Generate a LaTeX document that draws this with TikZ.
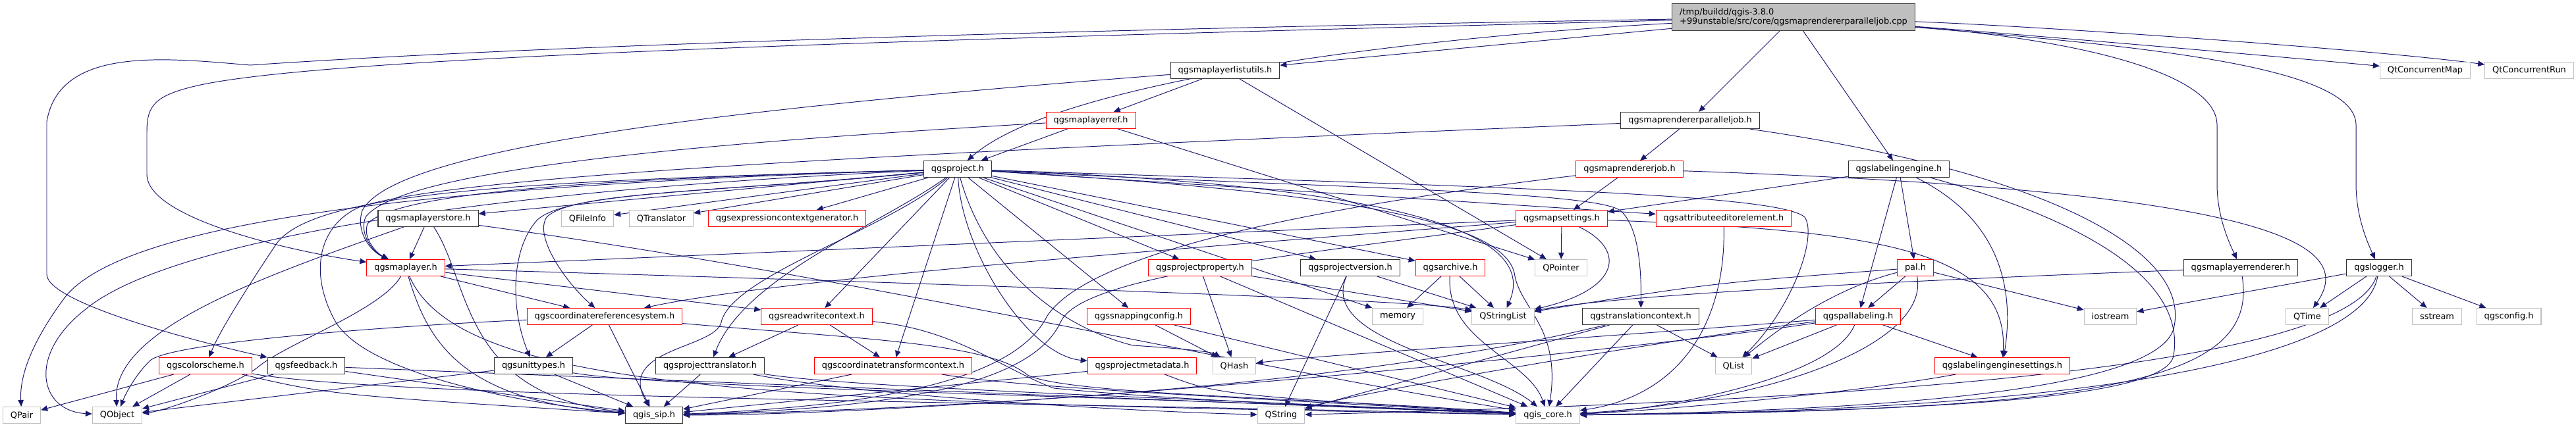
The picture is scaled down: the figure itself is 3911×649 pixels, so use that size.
\documentclass[tikz,border=0pt]{standalone}
\usepackage{fontspec}
\setmainfont{DejaVu Sans}
\usepackage{xcolor}
\usepackage{tikz}
\usetikzlibrary{arrows.meta, backgrounds}

\definecolor{midnight}{RGB}{25,25,112}
\definecolor{grey75}{RGB}{191,191,191}

\begin{document}
\begin{tikzpicture}[x=0.02cm, y=-0.02cm,
  every node/.style={font=\fontsize{7.35}{8}\selectfont, inner xsep=0.23cm,
                     inner ysep=0pt, minimum height=0.5cm, fill=white},
  hdr/.style={draw=black!80, line width=0.65pt},
  cut/.style={draw=red, line width=0.5pt},
  ext/.style={draw=grey75, line width=0.6pt},
  arrow/.style={-{Triangle[length=0.2cm, width=0.17cm]}, color=midnight, line width=0.55pt}
]
  \useasboundingbox (0,0) rectangle (3911,649);

  % source file
  \node (cpp) [draw=black!75, line width=0.65pt, fill=grey75, align=left,
               minimum height=0.82cm] at (2723,26)
       {/tmp/buildd/qgis-3.8.0\\+99unstable/src/core/qgsmaprendererparalleljob.cpp};

  % first levels
  \node (mlu) [hdr] at (1860,107) {qgsmaplayerlistutils.h};
  \node (qcmap) [ext] at (3682,107) {QtConcurrentMap};
  \node (qcrun) [ext] at (3840,107) {QtConcurrentRun};
  \node (mlref) [cut] at (1656,183) {qgsmaplayerref.h};
  \node (pjob) [hdr] at (2566,183) {qgsmaprendererparalleljob.h};
  \node (proj) [hdr] at (1454,257) {qgsproject.h};
  \node (rjob) [cut] at (2474,257) {qgsmaprendererjob.h};
  \node (leng) [hdr] at (2883,257) {qgslabelingengine.h};

  % row 4
  \node (mlstore) [hdr] at (650,332) {qgsmaplayerstore.h};
  \node (qfileinfo) [ext] at (892,332) {QFileInfo};
  \node (qtrans) [ext] at (1004,332) {QTranslator};
  \node (exprgen) [cut] at (1195,332) {qgsexpressioncontextgenerator.h};
  \node (msettings) [cut] at (2371,332) {qgsmapsettings.h};
  \node (attred) [cut] at (2617,332) {qgsattributeeditorelement.h};

  % row 5
  \node (mlayer) [cut] at (616,407) {qgsmaplayer.h};
  \node (pprop) [cut] at (1822,407) {qgsprojectproperty.h};
  \node (pver) [hdr] at (2050,407) {qgsprojectversion.h};
  \node (archive) [cut] at (2202,407) {qgsarchive.h};
  \node (qpointer) [ext] at (2370,407) {QPointer};
  \node (pal) [cut] at (2908,407) {pal.h};
  \node (mlrend) [hdr] at (3402,407) {qgsmaplayerrenderer.h};
  \node (logger) [hdr] at (3612,407) {qgslogger.h};

  % row 6
  \node (crs) [cut] at (918,481) {qgscoordinatereferencesystem.h};
  \node (rwctx) [cut] at (1240,481) {qgsreadwritecontext.h};
  \node (snap) [cut] at (1729,481) {qgssnappingconfig.h};
  \node (memory) [ext] at (2122,481) {memory};
  \node (qstrlist) [ext] at (2282,481) {QStringList};
  \node (trctx) [hdr] at (2491,481) {qgstranslationcontext.h};
  \node (pallab) [cut] at (2821,481) {qgspallabeling.h};
  \node (iostream) [ext] at (3204,481) {iostream};
  \node (qtime) [ext] at (3503,481) {QTime};
  \node (sstream) [ext] at (3700,481) {sstream};
  \node (qgsconfig) [ext] at (3809,481) {qgsconfig.h};

  % row 7
  \node (colsch) [cut] at (312,556) {qgscolorscheme.h};
  \node (feedback) [hdr] at (465,556) {qgsfeedback.h};
  \node (units) [hdr] at (810,556) {qgsunittypes.h};
  \node (ptrans) [hdr] at (1078,556) {qgsprojecttranslator.h};
  \node (ctctx) [cut] at (1356,556) {qgscoordinatetransformcontext.h};
  \node (pmeta) [cut] at (1734,556) {qgsprojectmetadata.h};
  \node (qhash) [ext] at (1874,556) {QHash};
  \node (qlist) [ext] at (2632,556) {QList};
  \node (lesett) [cut] at (3040,556) {qgslabelingenginesettings.h};

  % bottom row
  \node (qpair) [ext] at (33,631) {QPair};
  \node (qobject) [ext] at (178,631) {QObject};
  \node (sip) [hdr] at (993,631) {qgis\_sip.h};
  \node (qstring) [ext] at (1945,631) {QString};
  \node (core) [ext] at (2350,631) {qgis\_core.h};

  \begin{scope}[on background layer]
  \fill[white] (0,0) rectangle (3911,649);

  % includes of the .cpp
  \draw[arrow] (cpp) -- (mlu);
  \draw[arrow] (cpp) -- (pjob);
  \draw[arrow] (cpp) -- (leng);
  \draw[arrow] (cpp) .. controls (2250,50) and (1620,110) .. (proj);
  \draw[arrow] (cpp) .. controls (1600,45) and (800,70) .. (380,99)
    .. controls (250,88) and (90,70) .. (71,185) -- (71,417)
    .. controls (71,460) and (300,520) .. (feedback);
  \draw[arrow] (cpp) .. controls (1400,60) and (500,85) .. (300,130)
    .. controls (235,145) and (223,160) .. (223,200) -- (223,265)
    .. controls (223,330) and (430,380) .. (mlayer);
  \draw[arrow] (cpp) .. controls (3150,60) and (3366,110) .. (3366,190) -- (3366,280)
    .. controls (3366,330) and (3385,370) .. (mlrend);
  \draw[arrow] (cpp) .. controls (3250,70) and (3577,100) .. (3577,190) -- (3577,280)
    .. controls (3577,330) and (3595,370) .. (logger);
  \draw[arrow] (cpp) .. controls (3100,55) and (3450,85) .. (qcmap);
  \draw[arrow] (cpp) .. controls (3100,40) and (3600,75) .. (qcrun);

  % layer list utils, layer ref
  \draw[arrow] (mlu) -- (mlref);
  \draw[arrow] (mlu) -- (qpointer);
  \draw[arrow] (mlu) .. controls (1100,165) and (600,225) .. (550,320)
    .. controls (540,350) and (560,380) .. (mlayer);
  \draw[arrow] (mlref) -- (proj);
  \draw[arrow] (mlref) -- (qpointer);
  \draw[arrow] (mlref) .. controls (1100,215) and (610,255) .. (555,330)
    .. controls (545,355) and (565,382) .. (mlayer);

  % renderer jobs
  \draw[arrow] (pjob) -- (rjob);
  \draw[arrow] (pjob) .. controls (3100,260) and (3330,380) .. (3300,500)
    .. controls (3270,600) and (2800,625) .. (core);
  \draw[arrow] (pjob) .. controls (1500,228) and (700,262) .. (545,315)
    .. controls (480,345) and (470,420) .. (510,490)
    .. controls (560,570) and (800,615) .. (sip);
  \draw[arrow] (rjob) -- (msettings);
  \draw[arrow] (rjob) .. controls (3450,290) and (3580,370) .. (qtime);
  \draw[arrow] (rjob) .. controls (1950,320) and (1650,390) .. (1590,480)
    .. controls (1550,560) and (1400,615) .. (sip);

  % labeling engine
  \draw[arrow] (leng) -- (msettings);
  \draw[arrow] (leng) -- (pal);
  \draw[arrow] (leng) -- (pallab);
  \draw[arrow] (leng) .. controls (3030,330) and (3060,430) .. (lesett);
  \draw[arrow] (leng) .. controls (3150,330) and (3320,420) .. (3300,540)
    .. controls (3290,610) and (2900,625) .. (core);

  % project
  \draw[arrow] (proj) -- (mlstore);
  \draw[arrow] (proj) -- (qfileinfo);
  \draw[arrow] (proj) -- (qtrans);
  \draw[arrow] (proj) -- (exprgen);
  \draw[arrow] (proj) .. controls (1000,270) and (610,285) .. (558,340)
    .. controls (550,362) and (572,385) .. (mlayer);
  \draw[arrow] (proj) .. controls (1100,292) and (860,290) .. (815,335)
    .. controls (775,380) and (775,470) .. (units);
  \draw[arrow] (proj) .. controls (1100,292) and (870,290) .. (830,330)
    .. controls (810,360) and (860,430) .. (crs);
  \draw[arrow] (proj) -- (rwctx);
  \draw[arrow] (proj) .. controls (1340,340) and (1130,420) .. (ptrans);
  \draw[arrow] (proj) -- (ctctx);
  \draw[arrow] (proj) .. controls (1460,380) and (1560,540) .. (pmeta);
  \draw[arrow] (proj) -- (snap);
  \draw[arrow] (proj) .. controls (1500,420) and (1620,500) .. (1720,525)
    .. controls (1800,530) and (1840,535) .. (qhash);
  \draw[arrow] (proj) -- (pprop);
  \draw[arrow] (proj) -- (pver);
  \draw[arrow] (proj) -- (archive);
  \draw[arrow] (proj) -- (memory);
  \draw[arrow] (proj) .. controls (2200,285) and (2330,370) .. (qstrlist);
  \draw[arrow] (proj) .. controls (2000,285) and (2420,290) .. (2460,320)
    .. controls (2490,345) and (2492,420) .. (trctx);
  \draw[arrow] (proj) -- (attred);
  \draw[arrow] (proj) .. controls (2300,285) and (2700,295) .. (2740,330)
    .. controls (2760,360) and (2720,470) .. (qlist);
  \draw[arrow] (proj) .. controls (800,275) and (480,290) .. (420,370)
    .. controls (380,430) and (335,500) .. (colsch);
  \draw[arrow] (proj) .. controls (700,280) and (200,330) .. (100,450)
    .. controls (40,530) and (30,580) .. (qpair);
  \draw[arrow] (proj) .. controls (700,290) and (250,370) .. (130,470)
    .. controls (40,540) and (60,625) .. (qobject);
  \draw[arrow] (proj) .. controls (1345,350) and (1110,420) .. (1095,490)
    .. controls (1085,530) and (935,530) .. (sip);
  \draw[arrow] (proj) .. controls (2000,290) and (2290,330) .. (2300,420)
    .. controls (2310,470) and (2370,500) .. (core);

  % map layer store, map layer
  \draw[arrow] (mlstore) -- (mlayer);
  \draw[arrow] (mlstore) .. controls (400,420) and (170,500) .. (qobject);
  \draw[arrow] (mlstore) .. controls (715,430) and (700,600) .. (sip);
  \draw[arrow] (mlstore) .. controls (1300,420) and (1900,560) .. (core);
  \draw[arrow] (mlayer) -- (crs);
  \draw[arrow] (mlayer) -- (rwctx);
  \draw[arrow] (mlayer) .. controls (1400,430) and (2150,455) .. (qstrlist);
  \draw[arrow] (mlayer) .. controls (650,520) and (700,610) .. (sip);
  \draw[arrow] (mlayer) .. controls (580,470) and (440,520) .. (394,556)
    .. controls (360,585) and (250,625) .. (qobject);
  \draw[arrow] (mlayer) .. controls (700,600) and (1200,610) .. (core);

  % crs and friends
  \draw[arrow] (crs) -- (units);
  \draw[arrow] (crs) -- (sip);
  \draw[arrow] (crs) .. controls (600,495) and (260,520) .. (228,548)
    .. controls (205,570) and (190,600) .. (qobject);
  \draw[arrow] (crs) .. controls (1300,515) and (1500,520) .. (1560,570)
    .. controls (1620,600) and (2000,605) .. (core);
  \draw[arrow] (rwctx) -- (ptrans);
  \draw[arrow] (rwctx) -- (ctctx);
  \draw[arrow] (rwctx) .. controls (1450,500) and (1520,560) .. (1600,590)
    .. controls (1800,610) and (2100,620) .. (core);
  \draw[arrow] (units) -- (sip);
  \draw[arrow] (units) -- (qobject);
  \draw[arrow] (units) .. controls (1000,590) and (1800,605) .. (core);
  \draw[arrow] (ptrans) -- (sip);
  \draw[arrow] (ptrans) .. controls (1300,590) and (1800,605) .. (core);
  \draw[arrow] (ptrans) .. controls (1300,600) and (1700,625) .. (qstring);
  \draw[arrow] (ctctx) -- (sip);
  \draw[arrow] (ctctx) .. controls (1550,590) and (1900,605) .. (core);
  \draw[arrow] (pmeta) -- (sip);
  \draw[arrow] (pmeta) .. controls (1850,600) .. (core);

  % project parts
  \draw[arrow] (snap) -- (qhash);
  \draw[arrow] (snap) -- (core);
  \draw[arrow] (pprop) -- (qhash);
  \draw[arrow] (pprop) -- (core);
  \draw[arrow] (pprop) -- (qstrlist);
  \draw[arrow] (pver) -- (qstring);
  \draw[arrow] (pver) -- (qstrlist);
  \draw[arrow] (pver) .. controls (2000,520) and (2250,550) .. (core);
  \draw[arrow] (archive) -- (memory);
  \draw[arrow] (archive) -- (qstrlist);
  \draw[arrow] (archive) .. controls (2195,520) and (2320,545) .. (core);
  \draw[arrow] (attred) .. controls (2620,480) and (2560,600) .. (core);
  \draw[arrow] (trctx) -- (core);
  \draw[arrow] (trctx) -- (qstring);
  \draw[arrow] (trctx) -- (qlist);
  \draw[arrow] (trctx) .. controls (2000,600) and (1300,625) .. (sip);

  % map settings
  \draw[arrow] (msettings) -- (qpointer);
  \draw[arrow] (msettings) .. controls (2470,380) and (2460,440) .. (qstrlist);
  \draw[arrow] (msettings) -- (mlayer);
  \draw[arrow] (msettings) .. controls (1900,370) and (1200,420) .. (crs);
  \draw[arrow] (msettings) .. controls (2850,350) and (3050,380) .. (lesett);
  \draw[arrow] (msettings) .. controls (1950,390) and (1640,420) .. (1610,490)
    .. controls (1570,575) and (1400,620) .. (sip);

  % labeling
  \draw[arrow] (pal) -- (pallab);
  \draw[arrow] (pal) .. controls (2780,440) and (2700,500) .. (qlist);
  \draw[arrow] (pal) -- (iostream);
  \draw[arrow] (pal) .. controls (2600,430) .. (qstrlist);
  \draw[arrow] (pal) .. controls (2930,520) and (2700,610) .. (core);
  \draw[arrow] (pallab) -- (qlist);
  \draw[arrow] (pallab) -- (lesett);
  \draw[arrow] (pallab) .. controls (2780,580) and (2500,625) .. (core);
  \draw[arrow] (pallab) .. controls (2500,530) and (1500,630) .. (sip);
  \draw[arrow] (pallab) .. controls (2500,520) and (2050,600) .. (qstring);
  \draw[arrow] (pallab) .. controls (2400,515) and (2000,540) .. (qhash);
  \draw[arrow] (lesett) .. controls (2800,600) and (2500,625) .. (core);

  % renderer, logger
  \draw[arrow] (mlrend) .. controls (2800,430) and (2450,450) .. (qstrlist);
  \draw[arrow] (mlrend) .. controls (3430,580) and (3200,625) .. (core);
  \draw[arrow] (logger) -- (iostream);
  \draw[arrow] (logger) -- (qtime);
  \draw[arrow] (logger) -- (sstream);
  \draw[arrow] (logger) -- (qgsconfig);
  \draw[arrow] (logger) .. controls (3590,540) and (3200,625) .. (core);
  \draw[arrow] (logger) .. controls (3560,570) and (2700,612) .. (qstring);

  % small headers at the bottom left
  \draw[arrow] (feedback) -- (qobject);
  \draw[arrow] (feedback) -- (sip);
  \draw[arrow] (feedback) -- (core);
  \draw[arrow] (colsch) -- (qpair);
  \draw[arrow] (colsch) -- (qobject);
  \draw[arrow] (colsch) .. controls (500,600) .. (sip);
  \draw[arrow] (colsch) .. controls (600,605) and (1500,610) .. (core);
  \end{scope}
\end{tikzpicture}
\end{document}
